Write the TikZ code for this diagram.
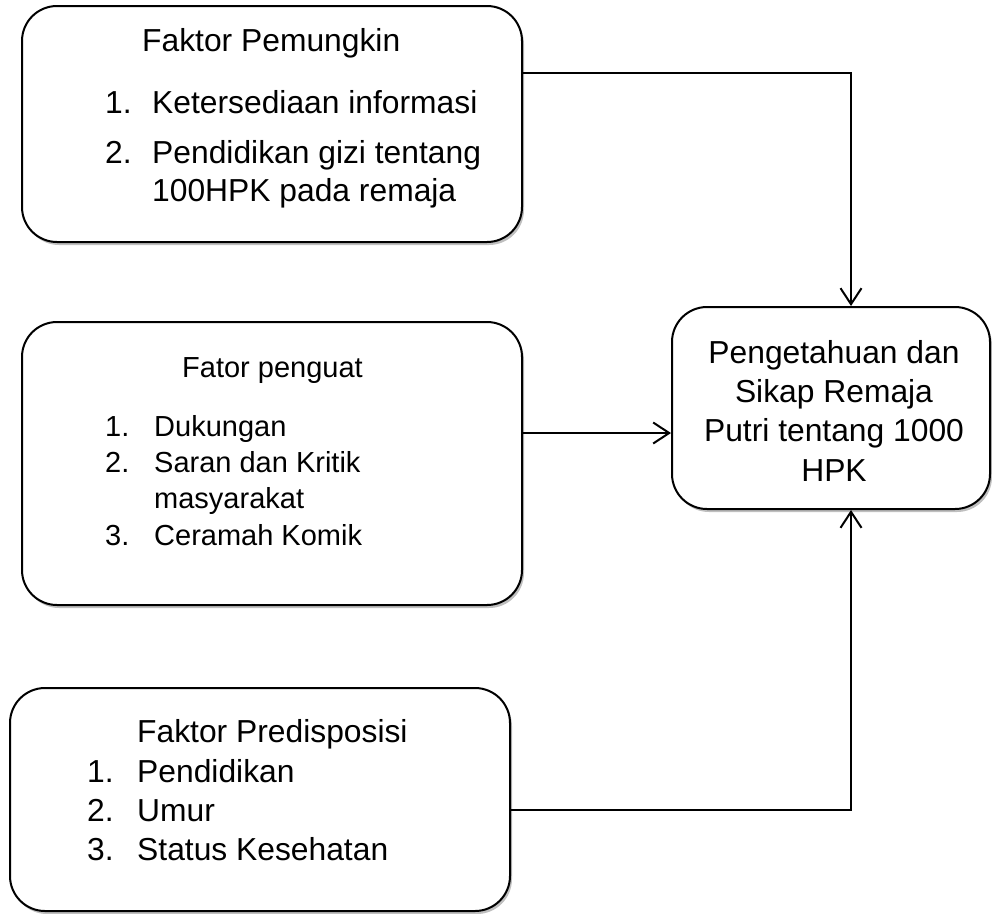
\documentclass[tikz,border=0pt]{standalone}
\usepackage{fontspec}
\setmainfont{Liberation Sans}
\usetikzlibrary{arrows.meta,shadows}
\begin{document}
\begin{tikzpicture}[x=1pt,y=-1pt,
  boxnode/.style={draw=black, line width=2pt, rounded corners=35pt, fill=white, inner sep=0pt,
    drop shadow={shadow xshift=2pt, shadow yshift=-3pt, opacity=0.25, fill=black}},
  txt/.style={anchor=base west, inner sep=0pt, font=\fontsize{31.8}{38}\selectfont},
  txts/.style={anchor=base west, inner sep=0pt, font=\fontsize{29}{35}\selectfont},
  ctxt/.style={anchor=base, inner sep=0pt, font=\fontsize{31.8}{38}\selectfont},
  conn/.style={line width=2pt, -{Straight Barb[length=16pt,width=21pt,line width=2pt]}}
]
\useasboundingbox (0,0) rectangle (992,913);
\fill[white] (0,0) rectangle (992,913);

% boxes
\node[boxnode, minimum width=500pt, minimum height=236pt] (b1) at (272,124) {};
\node[boxnode, minimum width=500pt, minimum height=283pt] (b2) at (272,463.5) {};
\node[boxnode, minimum width=500pt, minimum height=223pt] (b3) at (260,799.5) {};
\node[boxnode, minimum width=318pt, minimum height=202pt] (b4) at (831,408) {};

% box 1 text
\node[txt] (t1) at (142,51) {Faktor Pemungkin};
\node[txt] (t1n1) at (105,113) {1.};
\node[txt] (t1a) at (152,113) {Ketersediaan informasi};
\node[txt] (t1n2) at (105,163) {2.};
\node[txt] (t1b) at (152,163) {Pendidikan gizi tentang};
\node[txt] (t1c) at (152,201) {100HPK pada remaja};

% box 2 text
\node[txts] (t2) at (182,377) {Fator penguat};
\node[txts] (t2n1) at (105,436) {1.};
\node[txts] (t2a) at (154,436) {Dukungan};
\node[txts] (t2n2) at (105,472) {2.};
\node[txts] (t2b) at (154,472) {Saran dan Kritik};
\node[txts] (t2c) at (154,508) {masyarakat};
\node[txts] (t2n3) at (105,545) {3.};
\node[txts] (t2d) at (154,545) {Ceramah Komik};

% box 3 text
\node[txt] (t3) at (137,742) {Faktor Predisposisi};
\node[txt] (t3n1) at (87,782) {1.};
\node[txt] (t3a) at (137,782) {Pendidikan};
\node[txt] (t3n2) at (87,821) {2.};
\node[txt] (t3b) at (137,821) {Umur};
\node[txt] (t3n3) at (87,860) {3.};
\node[txt] (t3c) at (137,860) {Status Kesehatan};

% box 4 text
\node[ctxt] (t4a) at (834,363) {Pengetahuan dan};
\node[ctxt] (t4b) at (834,402) {Sikap Remaja};
\node[ctxt] (t4c) at (834,441) {Putri tentang 1000};
\node[ctxt] (t4d) at (834,481) {HPK};

% connectors
\coordinate (c1) at (851,73);
\coordinate (c3) at (851,810);
\draw[conn] (b1.east |- c1) -- (c1) -- (c1 |- b4.north);
\draw[conn] (b2.east |- 0,433) -- (b4.west |- 0,433);
\draw[conn] (b3.east |- c3) -- (c3) -- (c3 |- b4.south);
\end{tikzpicture}
\end{document}
